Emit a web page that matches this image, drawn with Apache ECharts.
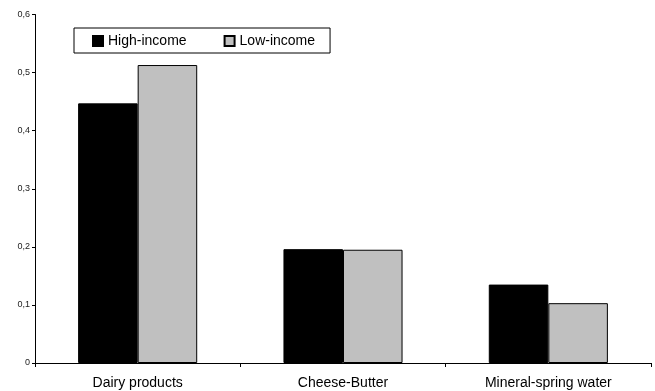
<!DOCTYPE html>
<html>
<head>
<meta charset="utf-8">
<script src="https://cdn.jsdelivr.net/npm/echarts@6/dist/echarts.min.js"></script>
<style>html,body{margin:0;padding:0;background:#fff;}#c{width:655px;height:391px;}</style>
</head>
<body>
<div id="c"></div>
<script>
const categories = ['Dairy products', 'Cheese-Butter', 'Mineral-spring water'];
const highIncome = [0.447, 0.196, 0.135];
const lowIncome = [0.513, 0.195, 0.103];
const seriesNames = ['High-income', 'Low-income'];

const chart = echarts.init(document.getElementById('c'), null, {renderer: 'canvas'});
chart.setOption({
  animation: false,
  backgroundColor: '#fff',
  textStyle: {fontFamily: 'Liberation Sans, Arial, sans-serif'},
  grid: {left: 35, right: 4, top: 14.5, bottom: 28, containLabel: false},
  legend: {
    left: 74, top: 28,
    padding: [6, 15, 5, 18],
    borderColor: '#000', borderWidth: 1,
    itemWidth: 10, itemHeight: 10, itemGap: 37,
    icon: 'rect',
    textStyle: {fontSize: 14, color: '#000', fontFamily: 'Liberation Sans, Arial, sans-serif'},
    data: seriesNames
  },
  xAxis: {
    type: 'category', data: categories,
    axisLine: {lineStyle: {color: '#000', width: 1}},
    axisTick: {show: true, length: 4, lineStyle: {color: '#000'}},
    axisLabel: {fontSize: 14, color: '#000', margin: 13, fontFamily: 'Liberation Sans, Arial, sans-serif'}
  },
  yAxis: {
    type: 'value', min: 0, max: 0.6, interval: 0.1,
    splitLine: {show: false},
    axisLine: {show: true, lineStyle: {color: '#000', width: 1}},
    axisTick: {show: true, length: 3, lineStyle: {color: '#000'}},
    axisLabel: {fontSize: 9, color: '#222', margin: 5,
      formatter: v => v === 0 ? '0' : v.toFixed(1).replace('.', ',')}
  },
  series: [
    {name: seriesNames[0], type: 'bar', data: highIncome, barGap: '0%', barCategoryGap: '42%',
     itemStyle: {color: '#000', borderColor: '#000', borderWidth: 1}},
    {name: seriesNames[1], type: 'bar', data: lowIncome, barGap: '0%', barCategoryGap: '42%',
     itemStyle: {color: '#c0c0c0', borderColor: '#000', borderWidth: 1}}
  ]
});
</script>
</body>
</html>
